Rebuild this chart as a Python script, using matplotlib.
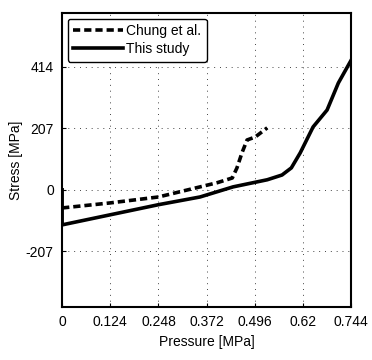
import matplotlib
matplotlib.use("Agg")
import matplotlib.pyplot as plt

plt.rcParams['font.family'] = ['Liberation Sans', 'DejaVu Sans']
plt.rcParams['axes.unicode_minus'] = False

chung_x = [0.0, 0.124, 0.248, 0.355, 0.399, 0.438, 0.450, 0.463, 0.476, 0.497, 0.528]
chung_y = [-61, -44, -24, 10, 24, 40, 74, 125, 168, 178, 209]

study_x = [0.0, 0.0, 0.124, 0.248, 0.355, 0.440, 0.528, 0.566, 0.590, 0.613, 0.646, 0.682, 0.711, 0.744]
study_y = [0, -118, -84, -50, -24, 10, 34, 50, 74, 125, 212, 269, 360, 437]

xticks = [0, 0.124, 0.248, 0.372, 0.496, 0.62, 0.744]
xtick_labels = ['0', '0.124', '0.248', '0.372', '0.496', '0.62', '0.744']
yticks = [-207, 0, 207, 414]
ytick_labels = ['-207', '0', '207', '414']

fig = plt.figure(figsize=(3.72, 3.6), dpi=100)
ax = fig.add_axes([0.167, 0.147, 0.777, 0.817])

ax.plot(chung_x, chung_y, color='black', lw=2.6, ls=(0, (2.0, 1.1)), label='Chung et al.')
ax.plot(study_x, study_y, color='black', lw=2.6, ls='-', label='This study')

ax.set_xlim(0, 0.744)
ax.set_ylim(-395, 596)
ax.set_xticks(xticks)
ax.set_xticklabels(xtick_labels)
ax.set_yticks(yticks)
ax.set_yticklabels(ytick_labels)
ax.grid(True, ls=(0, (1, 5)), color='#444444', lw=0.7)
ax.tick_params(direction='in', length=3, labelsize=10, pad=6)
for s in ax.spines.values():
    s.set_linewidth(1.5)

ax.set_xlabel('Pressure [MPa]', fontsize=10)
ax.set_ylabel('Stress [MPa]', fontsize=10, labelpad=2)

leg = ax.legend(loc='upper left', fontsize=10, handlelength=3.6, handletextpad=0.2,
                borderaxespad=0.4, borderpad=0.4, labelspacing=0.3, fancybox=True,
                framealpha=1, edgecolor='black')
leg.get_frame().set_linewidth(1.0)

fig.savefig('out.png', dpi=100)
